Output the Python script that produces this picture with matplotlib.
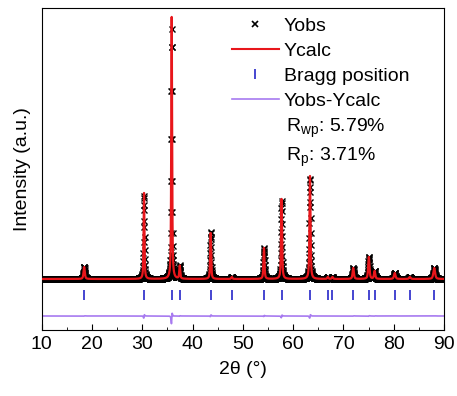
import numpy as np
import matplotlib.pyplot as plt
from matplotlib.lines import Line2D

plt.rcParams['font.family'] = ['Liberation Sans', 'DejaVu Sans']
plt.rcParams['mathtext.fontset'] = 'custom'
plt.rcParams['mathtext.rm'] = 'Liberation Sans'

# peak list: position (deg), calc height, obs height
peak_pos = [18.45, 30.35, 35.85, 37.45, 43.6, 47.8, 54.2, 57.7, 63.35,
            66.9, 67.8, 71.95, 75.05, 76.2, 80.2, 83.2, 88.05]
calc_h = [12, 86, 262, 13, 46, 2, 31, 80, 103, 2, 2, 11, 22, 8, 6, 2, 11]
obs_h = [12, 84, 250, 13, 47, 2, 31, 78, 101, 2, 2, 11, 22, 8, 6, 2, 11]
fwhm = [0.3, 0.2, 0.2, 0.22, 0.22, 0.25, 0.24, 0.24, 0.24, 0.25, 0.25,
        0.3, 0.3, 0.3, 0.35, 0.35, 0.4]
bragg_pos = [18.48, 30.35, 35.85, 37.5, 43.6, 47.8, 54.2, 57.7, 63.35,
             66.86, 67.8, 71.96, 75.07, 76.2, 80.24, 83.2, 88.07]

baseline = 51
bragg_level = 35
diff_level = 14


def profile(x, heights, shift=0.0):
    y = np.full_like(x, baseline, dtype=float)
    for p, h, w in zip(peak_pos, heights, fwhm):
        d = (x - p - shift) / (w / 2)
        y += h * (0.6 / (1 + d ** 2) + 0.4 * np.exp(-np.log(2) * d ** 2))
    return y


x_obs = np.arange(10, 90.001, 0.03)
x_calc = np.arange(10, 90.001, 0.005)
y_obs = profile(x_obs, obs_h, 0.01)
y_calc = profile(x_calc, calc_h)
y_diff = diff_level + 0.3 * (y_obs - profile(x_obs, calc_h))

fig = plt.figure(figsize=(4.57, 3.96), dpi=100)
ax = fig.add_axes([0.0912, 0.1667, 0.8804, 0.8131])

ax.plot(x_obs, y_obs, 'x', color='black', ms=4, mew=1.0, zorder=2)
ax.plot(x_calc, y_calc, '-', color='#e8161b', lw=1.6, zorder=3)
ax.plot(bragg_pos, [bragg_level] * len(bragg_pos), '|', color='#2626c8',
        ms=7, mew=1.2)
ax.plot(x_obs, y_diff, '-', color='#a77af0', lw=1.2)

ax.set_xlim(10, 90)
ax.set_ylim(0, 322)
ax.set_xticks(range(10, 91, 10))
ax.set_xticks(range(15, 90, 10), minor=True)
ax.set_yticks([])
ax.tick_params(axis='x', which='major', direction='in', length=4, labelsize=14, pad=4)
ax.tick_params(axis='x', which='minor', direction='in', length=2)
ax.set_xlabel('2θ (°)', fontsize=14, labelpad=6)
ax.set_ylabel('Intensity (a.u.)', fontsize=14, labelpad=8)

handles = [
    Line2D([], [], ls='none', marker='x', color='black', ms=5, mew=1.2),
    Line2D([], [], color='#e8161b', lw=1.5),
    Line2D([], [], ls='none', marker='|', color='#2626c8', ms=7, mew=1.2),
    Line2D([], [], color='#a77af0', lw=1.2),
]
labels = ['Yobs', 'Ycalc', 'Bragg position', 'Yobs-Ycalc']
ax.legend(handles, labels, loc='upper left', bbox_to_anchor=(0.473, 0.972),
          frameon=False, fontsize=14, handlelength=2.4, handletextpad=0.25,
          labelspacing=0.38, borderpad=0, borderaxespad=0)

ax.text(0.607, (330 - 128) / 322, r'$\mathregular{R_{wp}}$: 5.79%',
        transform=ax.transAxes, fontsize=14, va='center')
ax.text(0.607, (330 - 157) / 322, r'$\mathregular{R_{p}}$: 3.71%',
        transform=ax.transAxes, fontsize=14, va='center')

fig.savefig('out.png', dpi=100)
